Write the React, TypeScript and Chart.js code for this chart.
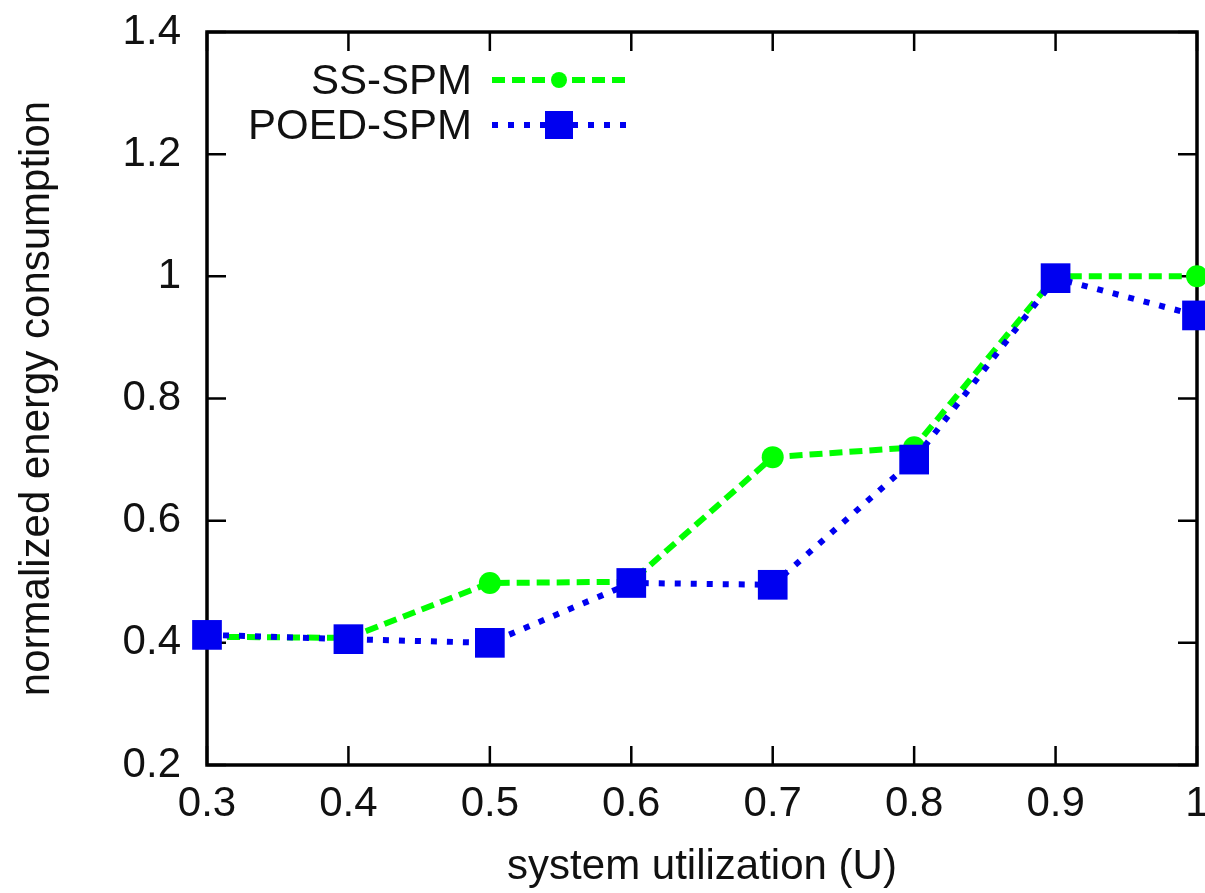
import React, { useEffect, useRef } from "react";
import { Chart, registerables } from "chart.js";
Chart.register(...registerables);

const utilization = [0.3, 0.4, 0.5, 0.6, 0.7, 0.8, 0.9, 1.0];
const ssSpm = [0.41, 0.408, 0.498, 0.5, 0.704, 0.72, 1.0, 1.0];
const poedSpm = [0.413, 0.406, 0.4, 0.498, 0.495, 0.7, 0.997, 0.936];
const seriesLabels = ["SS-SPM", "POED-SPM"];
const xTickValues = [0.3, 0.4, 0.5, 0.6, 0.7, 0.8, 0.9, 1.0];
const xTickLabels = ["0.3", "0.4", "0.5", "0.6", "0.7", "0.8", "0.9", "1"];
const yTickValues = [0.2, 0.4, 0.6, 0.8, 1.0, 1.2, 1.4];
const yTickLabels = ["0.2", "0.4", "0.6", "0.8", "1", "1.2", "1.4"];

const GREEN = "#00ff00";
const BLUE = "#0000f0";
const FONT = "'Liberation Sans', Arial, sans-serif";

const framePlugin = {
  id: "frame",
  beforeDatasetsDraw(chart: any) {
    const { ctx, chartArea: a, scales } = chart;
    const xs = scales.x;
    const ys = scales.y;
    const tl = 19;
    ctx.save();
    ctx.strokeStyle = "#000";
    ctx.lineWidth = 2.5;
    ctx.beginPath();
    xTickValues.forEach((v) => {
      const px = xs.getPixelForValue(v);
      ctx.moveTo(px, a.bottom);
      ctx.lineTo(px, a.bottom - tl);
      ctx.moveTo(px, a.top);
      ctx.lineTo(px, a.top + tl);
    });
    yTickValues.forEach((v) => {
      const py = ys.getPixelForValue(v);
      ctx.moveTo(a.left, py);
      ctx.lineTo(a.left + tl, py);
      ctx.moveTo(a.right, py);
      ctx.lineTo(a.right - tl, py);
    });
    ctx.stroke();
    ctx.lineWidth = 3.5;
    ctx.strokeRect(a.left, a.top, a.right - a.left, a.bottom - a.top);
    ctx.restore();
  },
};

const legendPlugin = {
  id: "gpLegend",
  afterDraw(chart: any) {
    const { ctx } = chart;
    const textRight = 472;
    const x0 = 492;
    const x1 = 626;
    const rows = [80, 125];
    ctx.save();
    ctx.font = `42px ${FONT}`;
    ctx.fillStyle = "#111";
    ctx.textAlign = "right";
    ctx.textBaseline = "middle";
    seriesLabels.forEach((lab, i) => {
      ctx.fillText(lab, textRight, rows[i] + 2);
    });
    // SS-SPM sample
    ctx.strokeStyle = GREEN;
    ctx.lineWidth = 6;
    ctx.setLineDash([13, 7]);
    ctx.beginPath();
    ctx.moveTo(x0, rows[0]);
    ctx.lineTo(x1, rows[0]);
    ctx.stroke();
    ctx.setLineDash([]);
    ctx.fillStyle = GREEN;
    ctx.beginPath();
    ctx.arc((x0 + x1) / 2, rows[0], 8, 0, Math.PI * 2);
    ctx.fill();
    // POED-SPM sample
    ctx.strokeStyle = BLUE;
    ctx.setLineDash([6, 10]);
    ctx.beginPath();
    ctx.moveTo(x0, rows[1]);
    ctx.lineTo(x1, rows[1]);
    ctx.stroke();
    ctx.setLineDash([]);
    ctx.fillStyle = BLUE;
    ctx.fillRect((x0 + x1) / 2 - 14, rows[1] - 14, 28, 28);
    ctx.restore();
  },
};

export default function App() {
  const ref = useRef<HTMLCanvasElement | null>(null);
  useEffect(() => {
    if (!ref.current) return;
    const chart = new Chart(ref.current, {
      type: "line",
      data: {
        datasets: [
          {
            label: seriesLabels[0],
            data: utilization.map((u, i) => ({ x: u, y: ssSpm[i] })),
            borderColor: GREEN,
            backgroundColor: GREEN,
            borderWidth: 6,
            borderDash: [13, 7],
            pointStyle: "circle",
            pointRadius: 11,
            pointBorderWidth: 0,
            tension: 0,
            clip: false,
            order: 1,
          },
          {
            label: seriesLabels[1],
            data: utilization.map((u, i) => ({ x: u, y: poedSpm[i] })),
            borderColor: BLUE,
            backgroundColor: BLUE,
            borderWidth: 6,
            borderDash: [6, 10],
            pointStyle: "rect",
            pointRadius: 21,
            pointBorderWidth: 0,
            tension: 0,
            clip: false,
            order: 0,
          },
        ],
      },
      options: {
        animation: false,
        responsive: false,
        maintainAspectRatio: false,
        layout: { padding: { left: 0, right: 28, top: 32, bottom: 0 } },
        plugins: { legend: { display: false }, tooltip: { enabled: false } },
        scales: {
          x: {
            type: "linear",
            min: 0.3,
            max: 1.0,
            afterBuildTicks: (s: any) => {
              s.ticks = xTickValues.map((v) => ({ value: v }));
            },
            afterFit: (s: any) => {
              s.height = 128;
              s.paddingLeft = 0;
              s.paddingRight = 0;
            },
            grid: { display: false, drawTicks: false },
            border: { display: false },
            ticks: {
              padding: 14,
              color: "#111",
              font: { family: FONT, size: 42 },
              maxRotation: 0,
              autoSkip: false,
              callback: (_v: any, i: number) => xTickLabels[i],
            },
            title: {
              display: true,
              text: "system utilization (U)",
              color: "#111",
              font: { family: FONT, size: 42 },
              padding: { top: 0, bottom: 0 },
            },
          },
          y: {
            type: "linear",
            min: 0.2,
            max: 1.4,
            afterBuildTicks: (s: any) => {
              s.ticks = yTickValues.map((v) => ({ value: v }));
            },
            afterFit: (s: any) => {
              s.width = 207;
              s.paddingTop = 0;
              s.paddingBottom = 0;
            },
            grid: { display: false, drawTicks: false },
            border: { display: false },
            ticks: {
              padding: 26,
              color: "#111",
              font: { family: FONT, size: 42 },
              autoSkip: false,
              callback: (_v: any, i: number) => yTickLabels[i],
            },
            title: {
              display: true,
              text: "normalized energy consumption",
              color: "#111",
              font: { family: FONT, size: 42 },
              padding: { top: 12, bottom: 0 },
            },
          },
        },
      },
      plugins: [framePlugin, legendPlugin],
    } as any);
    return () => chart.destroy();
  }, []);
  return (
    <div
      style={{
        position: "fixed",
        left: 0,
        top: 0,
        width: 1205,
        height: 893,
        overflow: "hidden",
        background: "#fff",
      }}
    >
      <canvas ref={ref} width={1225} height={893} style={{ display: "block" }} />
    </div>
  );
}
